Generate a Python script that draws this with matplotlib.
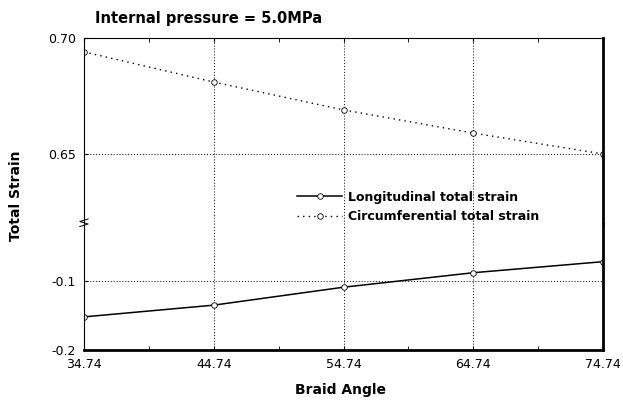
import matplotlib.pyplot as plt

angles = [34.74, 44.74, 54.74, 64.74, 74.74]
longitudinal = [-0.152, -0.135, -0.109, -0.088, -0.072]
circumferential = [0.694, 0.681, 0.669, 0.659, 0.650]

xtick_labels = ['34.74', '44.74', '54.74', '64.74', '74.74']
top_ticks = [0.65, 0.70]
top_labels = ['0.65', '0.70']
bottom_ticks = [-0.2, -0.1]
bottom_labels = ['-0.2', '-0.1']

plt.rcParams['font.family'] = 'DejaVu Sans'

fig = plt.figure(figsize=(6.23, 4.05), dpi=100)
left, right = 84 / 623, 603 / 623
ax_top = fig.add_axes([left, 1 - 224 / 405, right - left, (224 - 38) / 405])
ax_bot = fig.add_axes([left, 1 - 350 / 405, right - left, (350 - 224) / 405])

grid_kw = dict(color='black', linestyle=(0, (1, 2)), linewidth=0.7)

for ax in (ax_top, ax_bot):
    ax.set_xlim(34.74, 74.74)
    ax.set_xticks(angles)
    ax.xaxis.set_minor_locator(plt.FixedLocator([39.74, 49.74, 59.74, 69.74]))
    ax.tick_params(which='both', direction='in', labelsize=9, length=3, pad=6, top=True, right=False)
    ax.grid(True, which='major', **grid_kw)
    for s in ('left', 'top'):
        ax.spines[s].set_linestyle((0, (1, 1)))
        ax.spines[s].set_linewidth(0.8)
    ax.spines['right'].set_linewidth(2)
    ax.spines['bottom'].set_linewidth(2)

ax_top.spines['bottom'].set_visible(False)
ax_bot.spines['top'].set_visible(False)
ax_top.tick_params(which='both', bottom=False, labelbottom=False)
ax_bot.tick_params(which='both', top=False)

ax_top.set_ylim(0.6198, 0.70)
ax_top.set_yticks(top_ticks)
ax_top.set_yticklabels(top_labels)
ax_bot.set_ylim(-0.2, -0.0174)
ax_bot.set_yticks(bottom_ticks)
ax_bot.set_yticklabels(bottom_labels)
ax_bot.set_xticklabels(xtick_labels)

l1, = ax_bot.plot(angles, longitudinal, color='black', linewidth=1.1, linestyle='-',
                  marker='o', markersize=4, markerfacecolor='white', markeredgewidth=0.6)
l2, = ax_top.plot(angles, circumferential, color='black', linewidth=1.0, linestyle=(0, (1, 3)),
                  marker='o', markersize=4, markerfacecolor='white', markeredgewidth=0.6)

# break mark on the left axis
ax_bot.plot([-0.008, 0.008, -0.008, 0.008], [0.98, 1.0, 1.02, 1.04], transform=ax_bot.transAxes,
            color='black', linewidth=0.7, clip_on=False)

fig.legend([l1, l2], ['Longitudinal total strain', 'Circumferential total strain'],
           loc='center left', bbox_to_anchor=(286 / 623, 1 - 207 / 405), frameon=False,
           prop={'size': 9, 'weight': 'bold'},
           handlelength=3.6, handletextpad=0.45, labelspacing=0.55)

fig.text(95 / 623, 1 - 18 / 405, 'Internal pressure = 5.0MPa', fontsize=10.5, fontweight='bold', va='center')
fig.text(16 / 623, 1 - 196 / 405, 'Total Strain', rotation=90, fontsize=10, fontweight='bold',
         va='center', ha='center')
fig.text(340 / 623, 1 - 390 / 405, 'Braid Angle', fontsize=10, fontweight='bold', va='center', ha='center')

fig.savefig('out.png', dpi=100, facecolor='white')
